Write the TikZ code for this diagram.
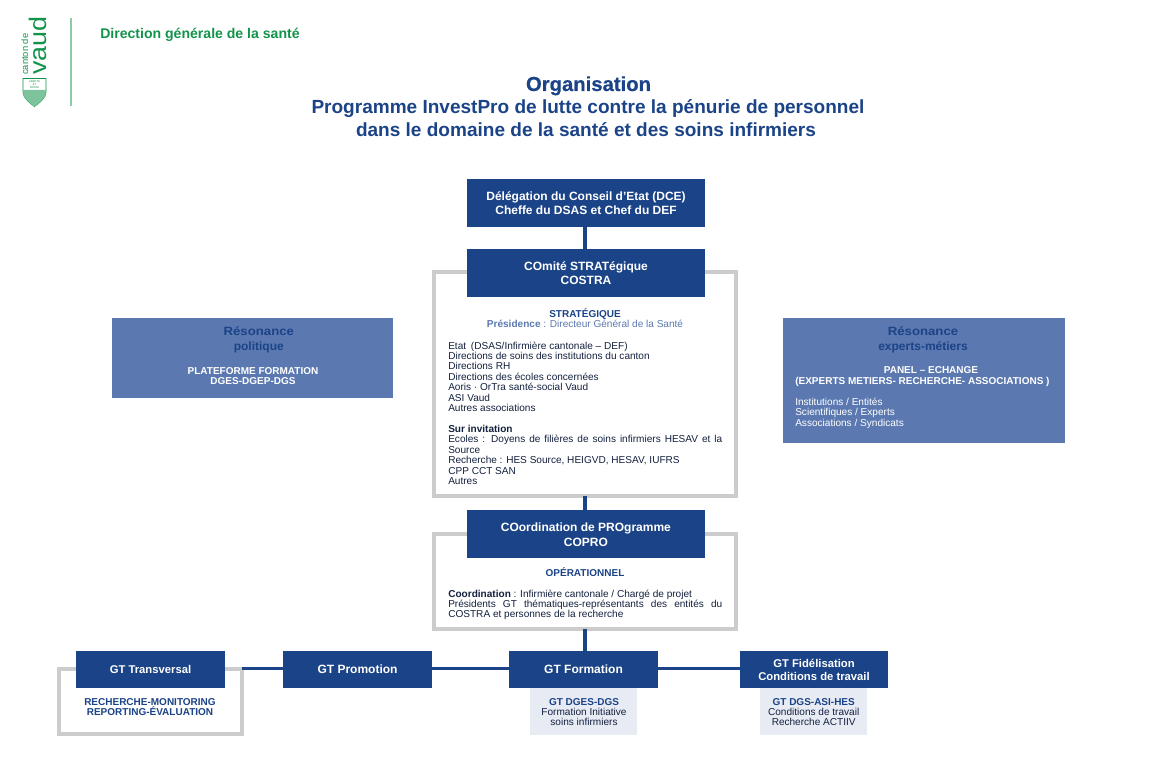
\documentclass[tikz,border=0pt]{standalone}
\usepackage{fontspec}
\setmainfont{Liberation Sans}
\newfontface\orgface{Liberation Sans Bold}[FakeBold=0.5]
\usetikzlibrary{calc}
\definecolor{navy}{HTML}{1B4387}
\definecolor{midblue}{HTML}{5B79B0}
\definecolor{paleblue}{HTML}{E7EBF3}
\definecolor{framegray}{HTML}{CCCCCC}
\definecolor{bodyink}{HTML}{14213F}
\definecolor{dgsgreen}{HTML}{12934A}
\definecolor{rulegreen}{HTML}{8CCBA0}
\newcommand{\fs}[2]{\fontsize{#1}{#2}\selectfont}
\newlength{\blockw}
\setlength{\blockw}{205.5pt}
\tikzset{
  x=0.75pt,y=-0.75pt,
  wh/.style 2 args={minimum width=#1*0.75pt,minimum height=#2*0.75pt},
  bluebox/.style={fill=navy,text=white,font=\bfseries\fs{9}{11},align=center,inner sep=0pt,outer sep=0pt,anchor=north west},
  smallbox/.style={bluebox,font=\bfseries\fs{8.45}{9.8}},
  frame/.style={draw=framegray,line width=3pt,fill=white,inner sep=0pt,outer sep=0pt,anchor=north west},
  link/.style={draw=navy,line width=2.3pt},
  reson/.style={fill=midblue,inner sep=0pt,outer sep=0pt,anchor=north west},
  pale/.style={fill=paleblue,inner sep=0pt,outer sep=0pt,anchor=north west},
  txt/.style={inner sep=0pt,anchor=base,align=center},
  ltxt/.style={inner sep=0pt,anchor=base west,align=left},
  body/.style={font=\fs{7.55}{7.8},text=bodyink},
  head/.style={font=\bfseries\fs{7.5}{7.8},text=navy},
  title/.style={font=\bfseries\fs{14.27}{17},text=navy},
  resontitle/.style={text=navy,font=\bfseries\fs{9}{11}},
}
\begin{document}
\begin{tikzpicture}
\useasboundingbox (0,0) rectangle (1170,780);
% logo
\draw[rulegreen,line width=0.9pt] (71,18) -- (71,106);
\node[inner sep=0pt,anchor=base west,rotate=90,text=dgsgreen,font=\fs{7}{7}] (canton) at (28,75) {canton de};
\node[inner sep=0pt,anchor=base west,rotate=90,text=dgsgreen,font=\fs{18}{18}] (vaud) at (46.5,75) {\scalebox{1.12}[1]{vaud}};
\draw[dgsgreen,line width=0.6pt] (23,78.5) -- (46,78.5) -- (46,92) .. controls (46,98) and (39,103) .. (34.5,106.5) .. controls (30,103) and (23,98) .. (23,92) -- cycle;
\fill[dgsgreen!55] (23,90) -- (46,90) -- (46,92) .. controls (46,98) and (39,103) .. (34.5,106.5) .. controls (30,103) and (23,98) .. (23,92) -- cycle;
\node[txt,text=dgsgreen,font=\fs{2}{2.3}] (devise) at (34.5,88.5) {LIBERTÉ\\ET\\PATRIE};
% header
\node[ltxt,text=dgsgreen,font=\bfseries\fs{10.55}{11}] (dgs) at (100,38.5) {Direction générale de la santé};
\node[txt,text=navy,font=\orgface\fs{15.2}{17}] (t1) at (588.5,91) {Organisation};
\node[txt,title] (t2) at (588,113.3) {Programme InvestPro de lutte contre la pénurie de personnel};
\node[txt,title] (t3) at (586,136.6) {dans le domaine de la santé et des soins infirmiers};
% frames
\node[frame,wh={302}{224}] (fcostra) at (434,272) {};
\node[frame,wh={302}{95}] (fcopro) at (434,534) {};
\node[frame,wh={183}{65}] (ftrans) at (59,669) {};
% boxes
\node[bluebox,wh={238}{48}] (dce) at (467,179) {Délégation du Conseil d’Etat (DCE)\\Cheffe du DSAS et Chef du DEF};
\node[bluebox,wh={238}{48}] (costra) at (467,249) {COmité STRATégique\\COSTRA};
\node[bluebox,wh={238}{48}] (copro) at (467,510) {};
\node[txt,text=white,font=\bfseries\fs{9}{11}] (coprotext) at (585.9,546.6) {COordination de PROgramme\\COPRO};
\node[smallbox,wh={149}{37}] (gtt) at (76,651) {GT Transversal};
\node[bluebox,wh={149}{37}] (gtp) at (283,651) {GT Promotion};
\node[bluebox,wh={149}{37}] (gtf) at (509,651) {GT Formation};
\node[smallbox,wh={148}{37}] (gtd) at (740,651) {GT Fidélisation\\Conditions de travail};
% connectors
\draw[link] (fcostra.north |- dce.south) -- (fcostra.north |- costra.north);
\draw[link] (fcostra.south) -- (fcostra.south |- copro.north);
\draw[link] (fcopro.south) -- (fcopro.south |- gtf.north);
\draw[link] ([yshift=1pt]gtp.west -| ftrans.east) -- ([yshift=1pt]gtp.west);
\draw[link] ([yshift=1pt]gtp.east) -- ([yshift=1pt]gtf.west);
\draw[link] ([yshift=1pt]gtf.east) -- ([yshift=1pt]gtd.west);
% costra text
\node[txt,head] (s1) at (585,317.5) {STRATÉGIQUE};
\node[txt,body,text=midblue] (s2) at (585,328) {\textbf{Présidence} : Directeur Général de la Santé};
\node[ltxt,body] (s3) at (448,411.4) {Etat\hspace{1.5pt} (DSAS/Infirmière cantonale – DEF)\\Directions de soins des institutions du canton\\Directions RH\\Directions des écoles concernées\\Aoris · OrTra santé-social Vaud\\ASI Vaud\\Autres associations};
\node[ltxt,body] (s4) at (448,432.5) {\textbf{Sur invitation}};
\node[inner sep=0pt,anchor=base west,body,text width=\blockw,align=justify] (s5) at (448,442.8) {Ecoles : Doyens de filières de soins infirmiers HESAV et la Source};
\node[ltxt,body] (s6) at (448,484.5) {Recherche : HES Source, HEIGVD, HESAV, IUFRS\\CPP CCT SAN\\Autres};
% copro text
\node[txt,head] (o1) at (585,576) {OPÉRATIONNEL};
\node[ltxt,body] (o2) at (448,597) {\textbf{Coordination} : Infirmière cantonale / Chargé de projet};
\node[inner sep=0pt,anchor=base west,body,text width=\blockw,align=justify] (o3) at (448,607.4) {Présidents GT thématiques-représentants des entités du COSTRA et personnes de la recherche};
% transversal text
\node[txt,head] (r1) at (150,715.5) {RECHERCHE-MONITORING\\REPORTING-ÉVALUATION};
% pale boxes
\node[pale,wh={107}{47}] (pf) at (530,688) {};
\node[pale,wh={107}{47}] (pd) at (760,688) {};
\node[txt,head] (pf1) at (584,705) {GT DGES-DGS};
\node[txt,body] (pf2) at (584,725.6) {Formation Initiative\\soins infirmiers};
\node[txt,head] (pd1) at (813.7,705) {GT DGS-ASI-HES};
\node[txt,body] (pd2) at (813.7,725.6) {Conditions de travail\\Recherche ACTIIV};
% resonance left
\node[reson,wh={281}{80}] (rl) at (112,318) {};
\node[txt,resontitle] (rl1) at (258.8,350.6) {\scalebox{1.1}[1]{Résonance}\\politique};
\node[txt,text=white,font=\bfseries\fs{7.5}{7.8}] (rl2) at (253,384.6) {PLATEFORME FORMATION\\DGES-DGEP-DGS};
% resonance right
\node[reson,wh={282}{125}] (rr) at (783,318) {};
\node[txt,resontitle] (rr1) at (923,350.6) {\scalebox{1.1}[1]{Résonance}\\experts-métiers};
\node[txt,text=white,font=\bfseries\fs{7.5}{7.8}] (rr2) at (931,373.5) {PANEL – ECHANGE};
\node[ltxt,text=white,font=\bfseries\fs{7.5}{7.8}] (rr3) at (795,384) {(EXPERTS METIERS- RECHERCHE- ASSOCIATIONS )};
\node[ltxt,text=white,font=\fs{7.55}{7.8}] (rr4) at (795,426) {Institutions / Entités\\Scientifiques / Experts\\Associations / Syndicats};
\end{tikzpicture}
\end{document}
